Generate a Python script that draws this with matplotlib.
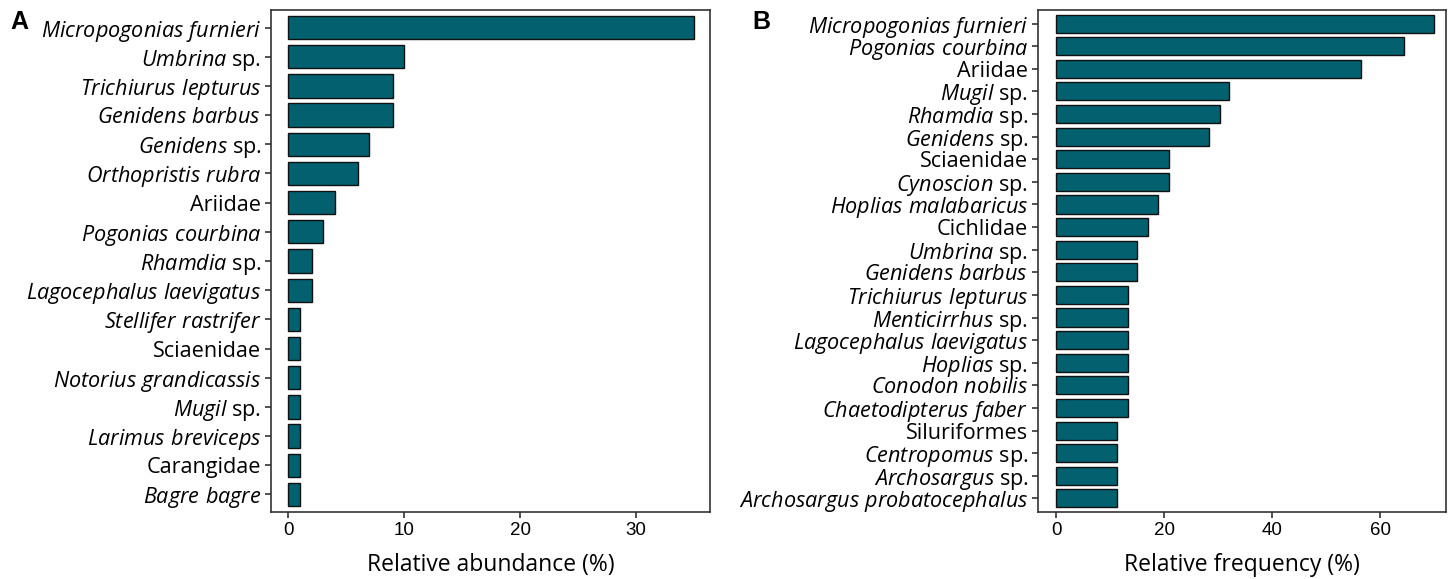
import matplotlib
matplotlib.use("Agg")
import matplotlib.pyplot as plt

plt.rcParams['mathtext.fontset'] = 'custom'
plt.rcParams['mathtext.it'] = 'Open Sans:italic'
plt.rcParams['mathtext.rm'] = 'Open Sans'
plt.rcParams['font.family'] = ['Open Sans', 'DejaVu Sans']

# Panel A: relative abundance
abund_labels = [
    (r"Micropogonias furnieri", ""), (r"Umbrina", " sp."), (r"Trichiurus lepturus", ""),
    (r"Genidens barbus", ""), (r"Genidens", " sp."), (r"Orthopristis rubra", ""),
    ("", "Ariidae"), (r"Pogonias courbina", ""), (r"Rhamdia", " sp."),
    (r"Lagocephalus laevigatus", ""), (r"Stellifer rastrifer", ""), ("", "Sciaenidae"),
    (r"Notorius grandicassis", ""), (r"Mugil", " sp."), (r"Larimus breviceps", ""),
    ("", "Carangidae"), (r"Bagre bagre", ""),
]
abund_values = [35, 10, 9, 9, 7, 6, 4, 3, 2, 2, 1, 1, 1, 1, 1, 1, 1]

# Panel B: relative frequency
freq_labels = [
    (r"Micropogonias furnieri", ""), (r"Pogonias courbina", ""), ("", "Ariidae"),
    (r"Mugil", " sp."), (r"Rhamdia", " sp."), (r"Genidens", " sp."), ("", "Sciaenidae"),
    (r"Cynoscion", " sp."), (r"Hoplias malabaricus", ""), ("", "Cichlidae"),
    (r"Umbrina", " sp."), (r"Genidens barbus", ""), (r"Trichiurus lepturus", ""),
    (r"Menticirrhus", " sp."), (r"Lagocephalus laevigatus", ""), (r"Hoplias", " sp."),
    (r"Conodon nobilis", ""), (r"Chaetodipterus faber", ""), ("", "Siluriformes"),
    (r"Centropomus", " sp."), (r"Archosargus", " sp."), (r"Archosargus probatocephalus", ""),
]
freq_values = [70, 64.5, 56.5, 32, 30.3, 28.3, 20.8, 20.8, 18.9, 17, 15, 15,
               13.2, 13.2, 13.2, 13.2, 13.2, 13.2, 11.3, 11.3, 11.3, 11.3]

BAR = '#03606f'


def fmt(lab):
    it, rm = lab
    if it and rm:
        return r"$\it{" + it.replace(" ", r"\ ") + r"}$" + rm
    if it:
        return r"$\it{" + it.replace(" ", r"\ ") + r"}$"
    return rm


fig = plt.figure(figsize=(14.55, 5.79), dpi=100)
axA = fig.add_axes([271 / 1455, 1 - 512 / 579, (710 - 271) / 1455, (512 - 10) / 579])
axB = fig.add_axes([1038 / 1455, 1 - 512 / 579, (1446 - 1038) / 1455, (512 - 10) / 579])


def draw(ax, labels, values, xlim, xticks, xlabel):
    n = len(values)
    ys = list(range(n))
    ax.barh(ys, values, height=0.8, color=BAR, edgecolor='#111111', linewidth=1.0)
    ax.set_ylim(n - 0.4, -0.6)
    ax.set_yticks(ys)
    ax.set_yticklabels([fmt(l) for l in labels], fontsize=15.6)
    ax.set_xlim(*xlim)
    ax.set_xticks(xticks)
    ax.set_xticklabels([str(t) for t in xticks], fontfamily='Liberation Sans', fontsize=13.5)
    ax.set_xlabel(xlabel, fontsize=16.5, labelpad=10)
    for s in ax.spines.values():
        s.set_color('#333333')
        s.set_linewidth(1.2)
    ax.tick_params(axis='both', length=4, width=1.2, color='#333333')
    ax.tick_params(axis='y', pad=3)


draw(axA, abund_labels, abund_values, (-1.5, 36.4), [0, 10, 20, 30], 'Relative abundance (%)')
draw(axB, freq_labels, freq_values, (-3.4, 72.2), [0, 20, 40, 60], 'Relative frequency (%)')

fig.text(10 / 1455, 1 - 22 / 579, 'A', fontsize=18, fontweight='bold',
         fontfamily='Liberation Sans', va='center', ha='left')
fig.text(752 / 1455, 1 - 22 / 579, 'B', fontsize=18, fontweight='bold',
         fontfamily='Liberation Sans', va='center', ha='left')

fig.savefig('out.png', dpi=100)
